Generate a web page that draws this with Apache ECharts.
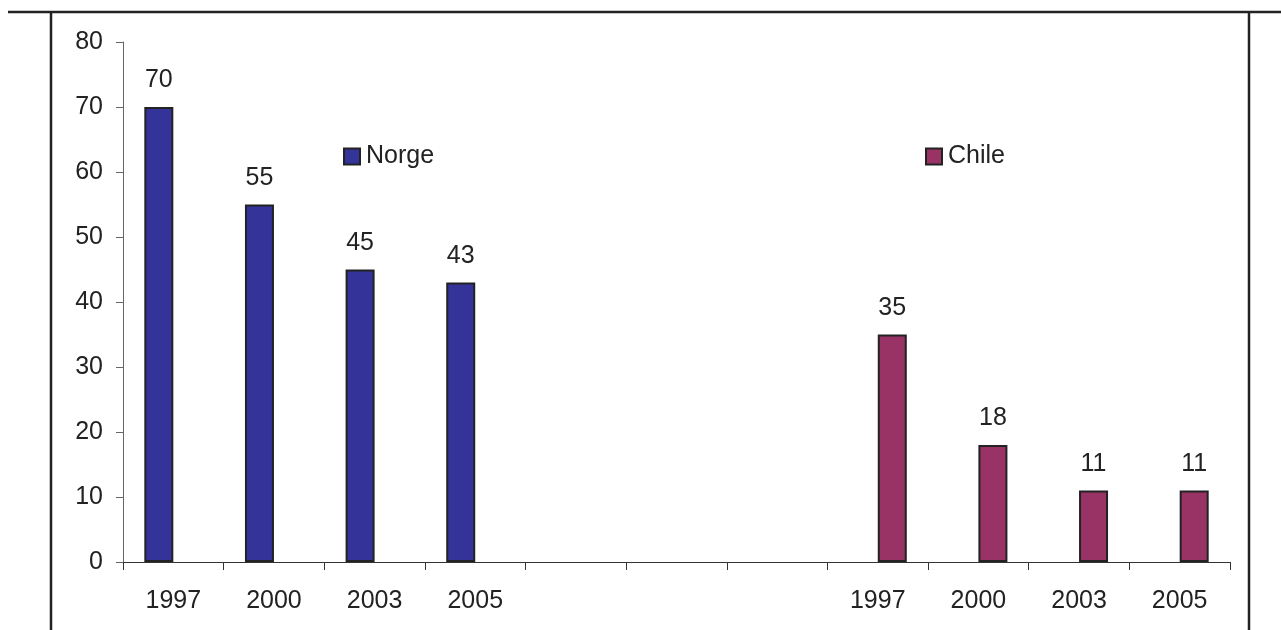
<!DOCTYPE html>
<html>
<head>
<meta charset="utf-8">
<script src="https://cdn.jsdelivr.net/npm/echarts@6/dist/echarts.min.js"></script>
<style>
  html, body { margin: 0; padding: 0; background: #fff; }
  #chart { width: 1281px; height: 630px; }
</style>
</head>
<body>
<div id="chart"></div>
<script>
// Year slots: Norge on the left block, Chile on the right, three empty slots between
const categories = ['1997', '2000', '2003', '2005', '', '', '', '1997', '2000', '2003', '2005'];
const norge = [70, 55, 45, 43, null, null, null, null, null, null, null];
const chile = [null, null, null, null, null, null, null, 35, 18, 11, 11];
const yTicks = { min: 0, max: 80, interval: 10 };

const chart = echarts.init(document.getElementById('chart'), null, { renderer: 'canvas' });

const font = 'Liberation Sans, Arial, sans-serif';
const ink = '#222';
const fs = 25;

const barLabel = {
  show: true,
  position: 'top',
  distance: 14,
  color: ink,
  fontFamily: font,
  fontSize: fs
};

function legendFor(name, left) {
  return {
    data: [name],
    left: left, top: 144,
    padding: 0,
    icon: 'rect', itemWidth: 16, itemHeight: 16,
    itemStyle: { borderColor: ink, borderWidth: 2 },
    textStyle: { color: ink, fontFamily: font, fontSize: fs, padding: [0, 0, 0, 1] }
  };
}

chart.setOption({
  animation: false,
  backgroundColor: '#fff',
  grid: { left: 123, right: 51, top: 42, bottom: 68, containLabel: false },
  legend: [legendFor('Norge', 343), legendFor('Chile', 925)],
  xAxis: {
    type: 'category',
    data: categories,
    boundaryGap: true,
    axisLine: { lineStyle: { color: '#333', width: 1.2 } },
    axisTick: { show: true, length: 8, inside: false, lineStyle: { color: '#333' } },
    axisLabel: { color: ink, fontFamily: font, fontSize: fs, margin: 27, interval: 0 },
    splitLine: { show: false }
  },
  yAxis: {
    type: 'value',
    min: yTicks.min,
    max: yTicks.max,
    interval: yTicks.interval,
    axisLine: { show: true, lineStyle: { color: '#666', width: 1 } },
    axisTick: { show: true, length: 7, lineStyle: { color: '#666' } },
    axisLabel: { color: ink, fontFamily: font, fontSize: fs, margin: 20 },
    splitLine: { show: false }
  },
  series: [
    {
      name: 'Norge',
      type: 'bar',
      data: norge,
      barWidth: 29,
      barGap: '0%',
      itemStyle: { color: '#333399', borderColor: ink, borderWidth: 2 },
      label: barLabel
    },
    {
      name: 'Chile',
      type: 'bar',
      data: chile,
      barWidth: 29,
      barGap: '0%',
      itemStyle: { color: '#993366', borderColor: ink, borderWidth: 2 },
      label: barLabel
    }
  ],
  graphic: [
    { type: 'line', shape: { x1: 8, y1: 12, x2: 1281, y2: 12 }, style: { stroke: ink, lineWidth: 2.5 } },
    { type: 'line', shape: { x1: 51, y1: 12, x2: 51, y2: 630 }, style: { stroke: ink, lineWidth: 2.5 } },
    { type: 'line', shape: { x1: 1249, y1: 12, x2: 1249, y2: 630 }, style: { stroke: ink, lineWidth: 2.5 } }
  ]
});
</script>
</body>
</html>
